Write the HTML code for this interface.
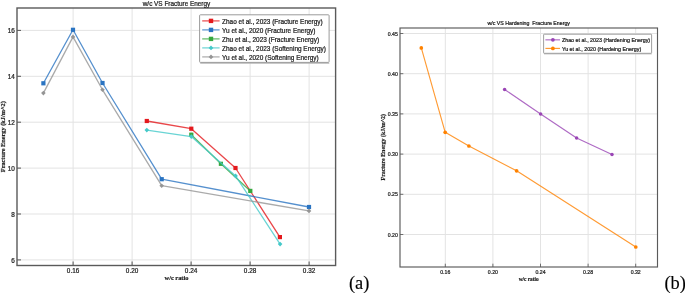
<!DOCTYPE html><html><head><meta charset="utf-8"><style>html,body{margin:0;padding:0;background:#fff;width:685px;height:293px;overflow:hidden}svg{display:block}</style></head><body>
<svg width="685" height="293" viewBox="0 0 685 293">
<rect width="685" height="293" fill="#fff"/>
<line x1="73.1" y1="8" x2="73.1" y2="265.5" stroke="#e3e3e3" stroke-width="1"/>
<line x1="132.1" y1="8" x2="132.1" y2="265.5" stroke="#e3e3e3" stroke-width="1"/>
<line x1="191.1" y1="8" x2="191.1" y2="265.5" stroke="#e3e3e3" stroke-width="1"/>
<line x1="250.1" y1="8" x2="250.1" y2="265.5" stroke="#e3e3e3" stroke-width="1"/>
<line x1="309.1" y1="8" x2="309.1" y2="265.5" stroke="#e3e3e3" stroke-width="1"/>
<line x1="17" y1="259.9" x2="335.6" y2="259.9" stroke="#e3e3e3" stroke-width="1"/>
<line x1="17" y1="214" x2="335.6" y2="214" stroke="#e3e3e3" stroke-width="1"/>
<line x1="17" y1="168.1" x2="335.6" y2="168.1" stroke="#e3e3e3" stroke-width="1"/>
<line x1="17" y1="122.2" x2="335.6" y2="122.2" stroke="#e3e3e3" stroke-width="1"/>
<line x1="17" y1="76.3" x2="335.6" y2="76.3" stroke="#e3e3e3" stroke-width="1"/>
<line x1="17" y1="30.4" x2="335.6" y2="30.4" stroke="#e3e3e3" stroke-width="1"/>
<polyline points="146.8,121 191.3,128.7 235.5,168 279.9,237.1" fill="none" stroke="#e4191d" stroke-width="1.3" stroke-opacity="0.8" stroke-linejoin="round"/>
<rect x="144.7" y="118.9" width="4.2" height="4.2" fill="#e4191d"/>
<rect x="189.2" y="126.6" width="4.2" height="4.2" fill="#e4191d"/>
<rect x="233.4" y="165.9" width="4.2" height="4.2" fill="#e4191d"/>
<rect x="277.8" y="235" width="4.2" height="4.2" fill="#e4191d"/>
<polyline points="43.4,83.3 73,29.8 102.5,83 161.7,179.2 309,207" fill="none" stroke="#2a74c2" stroke-width="1.3" stroke-opacity="0.8" stroke-linejoin="round"/>
<rect x="41.3" y="81.2" width="4.2" height="4.2" fill="#2a74c2"/>
<rect x="70.9" y="27.7" width="4.2" height="4.2" fill="#2a74c2"/>
<rect x="100.4" y="80.9" width="4.2" height="4.2" fill="#2a74c2"/>
<rect x="159.6" y="177.1" width="4.2" height="4.2" fill="#2a74c2"/>
<rect x="306.9" y="204.9" width="4.2" height="4.2" fill="#2a74c2"/>
<polyline points="191.3,134.7 220.9,163.8 250.3,190.9" fill="none" stroke="#36a83e" stroke-width="1.3" stroke-opacity="0.8" stroke-linejoin="round"/>
<rect x="189.2" y="132.6" width="4.2" height="4.2" fill="#36a83e"/>
<rect x="218.8" y="161.7" width="4.2" height="4.2" fill="#36a83e"/>
<rect x="248.2" y="188.8" width="4.2" height="4.2" fill="#36a83e"/>
<polyline points="146.8,130.1 191.3,136.6 235.6,175.9 280.1,244.1" fill="none" stroke="#44c9c9" stroke-width="1.3" stroke-opacity="0.8" stroke-linejoin="round"/>
<path d="M146.8 127.8L149.1 130.1L146.8 132.4L144.5 130.1Z" fill="#44c9c9"/>
<path d="M191.3 134.3L193.6 136.6L191.3 138.9L189 136.6Z" fill="#44c9c9"/>
<path d="M235.6 173.6L237.9 175.9L235.6 178.2L233.3 175.9Z" fill="#44c9c9"/>
<path d="M280.1 241.8L282.4 244.1L280.1 246.4L277.8 244.1Z" fill="#44c9c9"/>
<polyline points="43.4,93.1 73,36.9 102.5,89.8 161.7,185.7 309,210.9" fill="none" stroke="#959595" stroke-width="1.3" stroke-opacity="0.8" stroke-linejoin="round"/>
<path d="M43.4 90.8L45.7 93.1L43.4 95.4L41.1 93.1Z" fill="#959595"/>
<path d="M73 34.6L75.3 36.9L73 39.2L70.7 36.9Z" fill="#959595"/>
<path d="M102.5 87.5L104.8 89.8L102.5 92.1L100.2 89.8Z" fill="#959595"/>
<path d="M161.7 183.4L164 185.7L161.7 188L159.4 185.7Z" fill="#959595"/>
<path d="M309 208.6L311.3 210.9L309 213.2L306.7 210.9Z" fill="#959595"/>
<line x1="73.1" y1="265.5" x2="73.1" y2="261.5" stroke="#5a5a5a" stroke-width="1.0499999999999998"/>
<line x1="132.1" y1="265.5" x2="132.1" y2="261.5" stroke="#5a5a5a" stroke-width="1.0499999999999998"/>
<line x1="191.1" y1="265.5" x2="191.1" y2="261.5" stroke="#5a5a5a" stroke-width="1.0499999999999998"/>
<line x1="250.1" y1="265.5" x2="250.1" y2="261.5" stroke="#5a5a5a" stroke-width="1.0499999999999998"/>
<line x1="309.1" y1="265.5" x2="309.1" y2="261.5" stroke="#5a5a5a" stroke-width="1.0499999999999998"/>
<line x1="17" y1="259.9" x2="21" y2="259.9" stroke="#5a5a5a" stroke-width="1.0499999999999998"/>
<line x1="17" y1="214" x2="21" y2="214" stroke="#5a5a5a" stroke-width="1.0499999999999998"/>
<line x1="17" y1="168.1" x2="21" y2="168.1" stroke="#5a5a5a" stroke-width="1.0499999999999998"/>
<line x1="17" y1="122.2" x2="21" y2="122.2" stroke="#5a5a5a" stroke-width="1.0499999999999998"/>
<line x1="17" y1="76.3" x2="21" y2="76.3" stroke="#5a5a5a" stroke-width="1.0499999999999998"/>
<line x1="17" y1="30.4" x2="21" y2="30.4" stroke="#5a5a5a" stroke-width="1.0499999999999998"/>
<rect x="17" y="8" width="318.6" height="257.5" fill="none" stroke="#5a5a5a" stroke-width="1.4"/>
<line x1="200.2" y1="63.2" x2="329.3" y2="63.2" stroke="#b0b0b0" stroke-width="1"/>
<rect x="199.6" y="14.8" width="129.5" height="47.6" rx="0.8" fill="#fff" stroke="#8e8e8e" stroke-width="0.9"/>
<line x1="202.2" y1="20.9" x2="219.6" y2="20.9" stroke="#e4191d" stroke-width="1.2" stroke-opacity="0.8"/>
<rect x="208.8" y="18.7" width="4.4" height="4.4" fill="#e4191d"/>
<line x1="202.2" y1="29.9" x2="219.6" y2="29.9" stroke="#2a74c2" stroke-width="1.2" stroke-opacity="0.8"/>
<rect x="208.8" y="27.7" width="4.4" height="4.4" fill="#2a74c2"/>
<line x1="202.2" y1="38.9" x2="219.6" y2="38.9" stroke="#36a83e" stroke-width="1.2" stroke-opacity="0.8"/>
<rect x="208.8" y="36.7" width="4.4" height="4.4" fill="#36a83e"/>
<line x1="202.2" y1="47.9" x2="219.6" y2="47.9" stroke="#44c9c9" stroke-width="1.2" stroke-opacity="0.8"/>
<path d="M211 45.5L213.4 47.9L211 50.3L208.6 47.9Z" fill="#44c9c9"/>
<line x1="202.2" y1="56.9" x2="219.6" y2="56.9" stroke="#959595" stroke-width="1.2" stroke-opacity="0.8"/>
<path d="M211 54.5L213.4 56.9L211 59.3L208.6 56.9Z" fill="#959595"/>
<line x1="445.3" y1="28" x2="445.3" y2="267" stroke="#e3e3e3" stroke-width="1"/>
<line x1="492.9" y1="28" x2="492.9" y2="267" stroke="#e3e3e3" stroke-width="1"/>
<line x1="540.5" y1="28" x2="540.5" y2="267" stroke="#e3e3e3" stroke-width="1"/>
<line x1="588.1" y1="28" x2="588.1" y2="267" stroke="#e3e3e3" stroke-width="1"/>
<line x1="635.7" y1="28" x2="635.7" y2="267" stroke="#e3e3e3" stroke-width="1"/>
<line x1="400" y1="234.5" x2="657.5" y2="234.5" stroke="#e3e3e3" stroke-width="1"/>
<line x1="400" y1="194.3" x2="657.5" y2="194.3" stroke="#e3e3e3" stroke-width="1"/>
<line x1="400" y1="154.1" x2="657.5" y2="154.1" stroke="#e3e3e3" stroke-width="1"/>
<line x1="400" y1="113.9" x2="657.5" y2="113.9" stroke="#e3e3e3" stroke-width="1"/>
<line x1="400" y1="73.7" x2="657.5" y2="73.7" stroke="#e3e3e3" stroke-width="1"/>
<line x1="400" y1="33.5" x2="657.5" y2="33.5" stroke="#e3e3e3" stroke-width="1"/>
<polyline points="504.6,89.5 540.6,114 576.6,137.9 612,154.4" fill="none" stroke="#9a45b5" stroke-width="1.15" stroke-opacity="0.8" stroke-linejoin="round"/>
<circle cx="504.6" cy="89.5" r="1.75" fill="#9a45b5"/>
<circle cx="540.6" cy="114" r="1.75" fill="#9a45b5"/>
<circle cx="576.6" cy="137.9" r="1.75" fill="#9a45b5"/>
<circle cx="612" cy="154.4" r="1.75" fill="#9a45b5"/>
<polyline points="421.3,47.9 445.2,132.3 468.9,146 516.6,170.8 635.8,247" fill="none" stroke="#ff8200" stroke-width="1.15" stroke-opacity="0.8" stroke-linejoin="round"/>
<circle cx="421.3" cy="47.9" r="1.85" fill="#ff8200"/>
<circle cx="445.2" cy="132.3" r="1.85" fill="#ff8200"/>
<circle cx="468.9" cy="146" r="1.85" fill="#ff8200"/>
<circle cx="516.6" cy="170.8" r="1.85" fill="#ff8200"/>
<circle cx="635.8" cy="247" r="1.85" fill="#ff8200"/>
<line x1="445.3" y1="267" x2="445.3" y2="263.7" stroke="#5a5a5a" stroke-width="0.8624999999999999"/>
<line x1="492.9" y1="267" x2="492.9" y2="263.7" stroke="#5a5a5a" stroke-width="0.8624999999999999"/>
<line x1="540.5" y1="267" x2="540.5" y2="263.7" stroke="#5a5a5a" stroke-width="0.8624999999999999"/>
<line x1="588.1" y1="267" x2="588.1" y2="263.7" stroke="#5a5a5a" stroke-width="0.8624999999999999"/>
<line x1="635.7" y1="267" x2="635.7" y2="263.7" stroke="#5a5a5a" stroke-width="0.8624999999999999"/>
<line x1="400" y1="234.5" x2="403.3" y2="234.5" stroke="#5a5a5a" stroke-width="0.8624999999999999"/>
<line x1="400" y1="194.3" x2="403.3" y2="194.3" stroke="#5a5a5a" stroke-width="0.8624999999999999"/>
<line x1="400" y1="154.1" x2="403.3" y2="154.1" stroke="#5a5a5a" stroke-width="0.8624999999999999"/>
<line x1="400" y1="113.9" x2="403.3" y2="113.9" stroke="#5a5a5a" stroke-width="0.8624999999999999"/>
<line x1="400" y1="73.7" x2="403.3" y2="73.7" stroke="#5a5a5a" stroke-width="0.8624999999999999"/>
<line x1="400" y1="33.5" x2="403.3" y2="33.5" stroke="#5a5a5a" stroke-width="0.8624999999999999"/>
<rect x="400" y="28" width="257.5" height="239" fill="none" stroke="#5a5a5a" stroke-width="1.15"/>
<line x1="544" y1="53.9" x2="651.8" y2="53.9" stroke="#b5b5b5" stroke-width="0.9"/>
<rect x="543.6" y="34.2" width="108" height="19.1" rx="0.6" fill="#fff" stroke="#8e8e8e" stroke-width="0.85"/>
<line x1="545.4" y1="39.85" x2="560" y2="39.85" stroke="#9a45b5" stroke-width="1.15" stroke-opacity="0.8"/>
<circle cx="552.9" cy="39.85" r="1.9" fill="#9a45b5"/>
<line x1="545.4" y1="48.4" x2="560" y2="48.4" stroke="#ff8200" stroke-width="1.15" stroke-opacity="0.8"/>
<circle cx="552.9" cy="48.4" r="1.9" fill="#ff8200"/>
<g font-family="Liberation Sans, sans-serif" style="filter:grayscale(1)">
<text x="73.1" y="272.6" font-size="6.4" text-anchor="middle" fill="#222" stroke="#222" stroke-width="0.22">0.16</text>
<text x="132.1" y="272.6" font-size="6.4" text-anchor="middle" fill="#222" stroke="#222" stroke-width="0.22">0.20</text>
<text x="191.1" y="272.6" font-size="6.4" text-anchor="middle" fill="#222" stroke="#222" stroke-width="0.22">0.24</text>
<text x="250.1" y="272.6" font-size="6.4" text-anchor="middle" fill="#222" stroke="#222" stroke-width="0.22">0.28</text>
<text x="309.1" y="272.6" font-size="6.4" text-anchor="middle" fill="#222" stroke="#222" stroke-width="0.22">0.32</text>
<text x="14.9" y="262.5" font-size="6.4" text-anchor="end" fill="#222" stroke="#222" stroke-width="0.22">6</text>
<text x="14.9" y="216.6" font-size="6.4" text-anchor="end" fill="#222" stroke="#222" stroke-width="0.22">8</text>
<text x="14.9" y="170.7" font-size="6.4" text-anchor="end" fill="#222" stroke="#222" stroke-width="0.22">10</text>
<text x="14.9" y="124.8" font-size="6.4" text-anchor="end" fill="#222" stroke="#222" stroke-width="0.22">12</text>
<text x="14.9" y="78.9" font-size="6.4" text-anchor="end" fill="#222" stroke="#222" stroke-width="0.22">14</text>
<text x="14.9" y="33" font-size="6.4" text-anchor="end" fill="#222" stroke="#222" stroke-width="0.22">16</text>
<text x="176.5" y="5.6" font-size="6.4" text-anchor="middle" fill="#222" stroke="#222" stroke-width="0.22">w/c VS Fracture Energy</text>
<text x="176.5" y="280.3" font-size="6.4" font-family="Liberation Serif, serif" font-weight="bold" text-anchor="middle" fill="#222" stroke="#222" stroke-width="0.2">w/c ratio</text>
<text x="0" y="0" font-size="6.3" font-family="Liberation Serif, serif" font-weight="bold" text-anchor="middle" fill="#222" stroke="#222" stroke-width="0.2" transform="translate(4.9,136.7) rotate(-90)">Fracture Energy (kJ/m^2)</text>
<text x="222.1" y="23.75" font-size="6.45" fill="#222" stroke="#222" stroke-width="0.22">Zhao et al., 2023 (Fracture Energy)</text>
<text x="222.1" y="32.75" font-size="6.45" fill="#222" stroke="#222" stroke-width="0.22">Yu et al., 2020 (Fracture Energy)</text>
<text x="222.1" y="41.75" font-size="6.45" fill="#222" stroke="#222" stroke-width="0.22">Zhu et al., 2023 (Fracture Energy)</text>
<text x="222.1" y="50.75" font-size="6.45" fill="#222" stroke="#222" stroke-width="0.22">Zhao et al., 2023 (Softening Energy)</text>
<text x="222.1" y="59.75" font-size="6.45" fill="#222" stroke="#222" stroke-width="0.22">Yu et al., 2020 (Softening Energy)</text>
<text x="445.3" y="274" font-size="5.2" text-anchor="middle" fill="#222" stroke="#222" stroke-width="0.22">0.16</text>
<text x="492.9" y="274" font-size="5.2" text-anchor="middle" fill="#222" stroke="#222" stroke-width="0.22">0.20</text>
<text x="540.5" y="274" font-size="5.2" text-anchor="middle" fill="#222" stroke="#222" stroke-width="0.22">0.24</text>
<text x="588.1" y="274" font-size="5.2" text-anchor="middle" fill="#222" stroke="#222" stroke-width="0.22">0.28</text>
<text x="635.7" y="274" font-size="5.2" text-anchor="middle" fill="#222" stroke="#222" stroke-width="0.22">0.32</text>
<text x="397.9" y="236.5" font-size="5.2" text-anchor="end" fill="#222" stroke="#222" stroke-width="0.22">0.20</text>
<text x="397.9" y="196.3" font-size="5.2" text-anchor="end" fill="#222" stroke="#222" stroke-width="0.22">0.25</text>
<text x="397.9" y="156.1" font-size="5.2" text-anchor="end" fill="#222" stroke="#222" stroke-width="0.22">0.30</text>
<text x="397.9" y="115.9" font-size="5.2" text-anchor="end" fill="#222" stroke="#222" stroke-width="0.22">0.35</text>
<text x="397.9" y="75.7" font-size="5.2" text-anchor="end" fill="#222" stroke="#222" stroke-width="0.22">0.40</text>
<text x="397.9" y="35.5" font-size="5.2" text-anchor="end" fill="#222" stroke="#222" stroke-width="0.22">0.45</text>
<text x="528.7" y="25" font-size="5.25" text-anchor="middle" fill="#222" stroke="#222" stroke-width="0.22" xml:space="preserve">w/c VS Hardening  Fracture Energy</text>
<text x="528.7" y="281.2" font-size="5.3" font-family="Liberation Serif, serif" font-weight="bold" text-anchor="middle" fill="#222" stroke="#222" stroke-width="0.2">w/c ratio</text>
<text x="0" y="0" font-size="5.9" font-family="Liberation Serif, serif" font-weight="bold" text-anchor="middle" fill="#222" stroke="#222" stroke-width="0.2" transform="translate(384.9,147.2) rotate(-90)">Fracture Energy (kJ/m^2)</text>
<text x="561.9" y="42.15" font-size="5.35" fill="#222" stroke="#222" stroke-width="0.22">Zhao et al., 2023 (Hardening Energy)</text>
<text x="561.9" y="50.7" font-size="5.35" fill="#222" stroke="#222" stroke-width="0.22">Yu et al., 2020 (Hardeing Energy)</text>
<text x="348.9" y="289.25" font-size="18.4" font-family="Liberation Serif, serif" fill="#000" stroke="#000" stroke-width="0.15">(a)</text>
<text x="664.5" y="288.6" font-size="18.4" font-family="Liberation Serif, serif" fill="#000" stroke="#000" stroke-width="0.15">(b)</text>
</g></svg></body></html>
